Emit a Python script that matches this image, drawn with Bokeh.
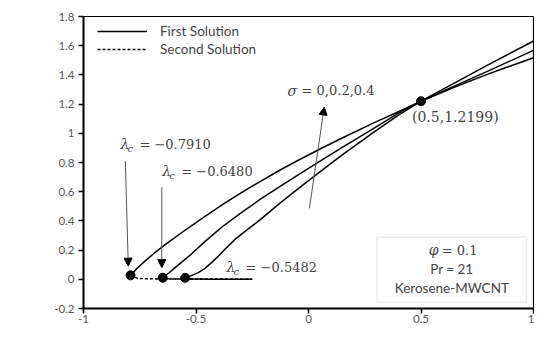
from bokeh.plotting import figure
from bokeh.models import (Legend, LegendItem, Label, Arrow, NormalHead, BoxAnnotation,
                          FixedTicker)
from bokeh.embed import file_html
from bokeh.resources import INLINE

# ---------------- data ----------------
sigma_values = [0, 0.2, 0.4]
lambda_c = [-0.7910, -0.6480, -0.5482]
theta_c = [0.027, 0.011, 0.010]

# first solution
first_x_s0 = [-0.7910, -0.76, -0.726, -0.68, -0.637, -0.549, -0.46, -0.372, -0.30, -0.217,
              -0.128, -0.05, 0.071, 0.15, 0.292, 0.40, 0.50, 0.65, 0.80, 1.00]
first_y_s0 = [0.027, 0.077, 0.126, 0.186, 0.238, 0.336, 0.431, 0.521, 0.592, 0.668,
              0.747, 0.812, 0.908, 0.968, 1.073, 1.148, 1.2199, 1.317, 1.407, 1.518]

first_x_s2 = [-0.6480, -0.62, -0.593, -0.53, -0.457, -0.383, -0.30, -0.217, -0.128, -0.03,
              0.071, 0.15, 0.292, 0.40, 0.50, 0.65, 0.80, 1.00]
first_y_s2 = [0.011, 0.045, 0.080, 0.160, 0.263, 0.360, 0.455, 0.545, 0.635, 0.730,
              0.828, 0.903, 1.035, 1.138, 1.2199, 1.325, 1.428, 1.568]

first_x_s4 = [-0.5482, -0.52, -0.49, -0.46, -0.431, -0.40, -0.372, -0.327, -0.268, -0.217,
              -0.128, -0.03, 0.071, 0.15, 0.292, 0.40, 0.50, 0.65, 0.80, 1.00]
first_y_s4 = [0.010, 0.025, 0.046, 0.075, 0.114, 0.160, 0.205, 0.273, 0.345, 0.405,
              0.520, 0.640, 0.760, 0.852, 1.010, 1.125, 1.2199, 1.345, 1.470, 1.632]

# second solution
second_x_s0 = [-0.7910, -0.76, -0.70, -0.60, -0.50, -0.40, -0.25]
second_y_s0 = [0.027, 0.006, 0.003, 0.002, 0.001, 0.001, 0.000]
second_x_s2 = [-0.6480, -0.62, -0.55, -0.45, -0.35, -0.25]
second_y_s2 = [0.011, 0.003, 0.002, 0.001, 0.001, 0.000]
second_x_s4 = [-0.5482, -0.52, -0.45, -0.35, -0.25]
second_y_s4 = [0.010, 0.003, 0.002, 0.001, 0.000]

cross_point = (0.5, 1.2199)

x_ticks = [-1, -0.5, 0, 0.5, 1]
x_tick_labels = ["-1", "-0.5", "0", "0.5", "1"]
y_ticks = [-0.2, 0, 0.2, 0.4, 0.6, 0.8, 1.0, 1.2, 1.4, 1.6, 1.8]
y_tick_labels = ["-0.2", "0", "0.2", "0.4", "0.6", "0.8", "1", "1.2", "1.4", "1.6", "1.8"]

phi_value = 0.1
pr_value = 21
fluid_name = "Kerosene-MWCNT"

# ---------------- figure ----------------
SERIF = "DejaVu Serif"
SANS = "Lato"

p = figure(width=534, height=340, x_range=(-1, 1), y_range=(-0.2, 1.8),
           output_backend="svg", toolbar_location=None,
           min_border_left=83, min_border_right=1, min_border_top=16, min_border_bottom=32)
p.background_fill_color = "white"
p.border_fill_color = "white"
p.grid.visible = False
p.outline_line_color = "black"
p.outline_line_width = 1.2

for ax in (p.xaxis[0], p.yaxis[0]):
    ax.axis_line_color = "black"
    ax.axis_line_width = 2
    ax.major_tick_line_color = "black"
    ax.major_tick_line_width = 1.5
    ax.major_tick_out = 5
    ax.major_tick_in = 0
    ax.minor_tick_line_color = None
    ax.major_label_text_font = SANS
    ax.major_label_text_font_size = "11.5px"
    ax.major_label_text_color = "#595959"

p.xaxis.ticker = FixedTicker(ticks=x_ticks)
p.xaxis.major_label_overrides = {t: l for t, l in zip(x_ticks, x_tick_labels)}
p.yaxis.ticker = FixedTicker(ticks=y_ticks)
p.yaxis.major_label_overrides = {t: l for t, l in zip(y_ticks, y_tick_labels)}
p.xaxis.major_label_standoff = 1
p.yaxis.major_label_standoff = 4

# axis titles
p.add_layout(Label(x=0, y=-0.2, y_offset=-30, text="λ", text_font=SERIF,
                   text_font_style="italic", text_font_size="14px", text_color="black",
                   text_align="center", text_baseline="bottom", level="overlay"))
p.add_layout(Label(x=-1, y=0.89, x_offset=-76, text="−", text_font=SERIF,
                   text_font_size="14px", text_baseline="middle"))
p.add_layout(Label(x=-1, y=0.89, x_offset=-64, text="θ′", text_font=SERIF,
                   text_font_style="italic", text_font_size="14px", text_baseline="middle"))
p.add_layout(Label(x=-1, y=0.89, x_offset=-51, text="(0)", text_font=SERIF,
                   text_font_size="14px", text_baseline="middle"))

# curves
first = [(first_x_s0, first_y_s0), (first_x_s2, first_y_s2), (first_x_s4, first_y_s4)]
second = [(second_x_s0, second_y_s0), (second_x_s2, second_y_s2), (second_x_s4, second_y_s4)]
first_r = [p.line(xs, ys, line_color="black", line_width=1.5, line_join="round")
           for xs, ys in first]
second_r = [p.line(xs, ys, line_color="black", line_width=1.5, line_dash="3 2")
            for xs, ys in second]

p.scatter(lambda_c, theta_c, size=9, color="black")
p.scatter([cross_point[0]], [cross_point[1]], size=9, color="black")

legend = Legend(items=[LegendItem(label="First Solution", renderers=[first_r[0]]),
                       LegendItem(label="Second Solution", renderers=[second_r[0]])],
                location=(14, 251), glyph_width=50, glyph_height=16, spacing=2,
                padding=0, margin=0, label_standoff=13,
                label_text_font=SANS, label_text_font_size="13.5px",
                border_line_color=None, background_fill_alpha=0)
p.add_layout(legend)

# annotations: lambda_c labels
def lam_label(x, y, val):
    p.add_layout(Label(x=x, y=y, text="λ", text_font=SERIF, text_font_style="italic",
                       text_font_size="14px", text_baseline="middle"))
    p.add_layout(Label(x=x, y=y, x_offset=7, y_offset=-4, text="c", text_font=SERIF,
                       text_font_style="italic", text_font_size="10px", text_baseline="middle"))
    p.add_layout(Label(x=x, y=y, x_offset=19, text=f"= −{abs(val):.4f}", text_font=SERIF,
                       text_font_size="13px", text_baseline="middle"))

lam_label(-0.836, 0.925, lambda_c[0])
lam_label(-0.650, 0.740, lambda_c[1])
lam_label(-0.364, 0.082, lambda_c[2])

head = lambda: NormalHead(size=8, fill_color="black", line_color="black")
p.add_layout(Arrow(end=head(), x_start=-0.814, y_start=0.81, x_end=-0.801, y_end=0.09,
                   line_color="#555555", line_width=1))
p.add_layout(Arrow(end=head(), x_start=-0.652, y_start=0.63, x_end=-0.652, y_end=0.08,
                   line_color="#555555", line_width=1))
p.add_layout(Arrow(end=head(), x_start=0.004, y_start=0.486, x_end=0.07, y_end=1.18,
                   line_color="#555555", line_width=1))

# sigma label
p.add_layout(Label(x=-0.093, y=1.29, text="σ", text_font=SERIF, text_font_style="italic",
                   text_font_size="14px", text_baseline="middle"))
p.add_layout(Label(x=-0.093, y=1.29, x_offset=14,
                   text="= " + ",".join(f"{s:g}" for s in sigma_values),
                   text_font=SERIF, text_font_size="13px", text_baseline="middle"))

p.add_layout(Label(x=0.46, y=1.11, text=f"({cross_point[0]:g},{cross_point[1]:.4f})",
                   text_font=SERIF, text_font_size="14px", text_baseline="middle"))

# info box
p.add_layout(BoxAnnotation(left=0.305, right=0.969, bottom=-0.158, top=0.288,
                           fill_color="white", fill_alpha=1, line_color="#bfbfbf",
                           line_width=1.5, level="overlay"))
p.add_layout(Label(x=0.637, y=0.2, x_offset=-23, text="φ", text_font=SERIF, text_font_style="italic",
                   text_font_size="14px", text_baseline="middle", level="overlay"))
p.add_layout(Label(x=0.637, y=0.2, x_offset=-10, text=f"= {phi_value:g}", text_font=SERIF,
                   text_font_size="13px", text_baseline="middle", level="overlay"))
p.add_layout(Label(x=0.637, y=0.068, text=f"Pr = {pr_value}", text_font=SANS,
                   text_font_size="13.5px", text_align="center", text_baseline="middle", level="overlay"))
p.add_layout(Label(x=0.637, y=-0.062, text=fluid_name, text_font=SANS,
                   text_font_size="13.5px", text_align="center", text_baseline="middle", level="overlay"))

open("out.html", "w").write(file_html(p, INLINE))
